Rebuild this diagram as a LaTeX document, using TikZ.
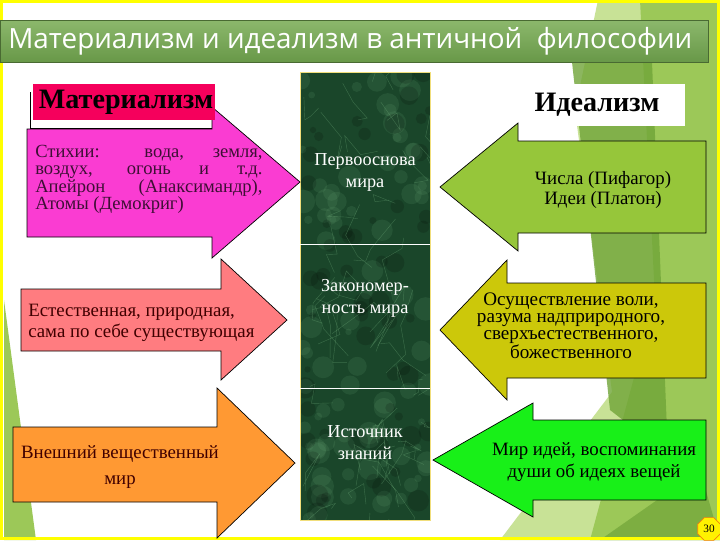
\documentclass[tikz,border=0pt]{standalone}
\usepackage{fontspec}
\setmainfont{Liberation Serif}
\newfontfamily\titlefont{Open Sans}
\usetikzlibrary{shapes.geometric}
\definecolor{ramka}{RGB}{255,255,0}
\definecolor{shapka}{RGB}{104,152,72}
\definecolor{shapkaverh}{RGB}{140,184,108}
\definecolor{mater}{RGB}{245,0,92}
\definecolor{purpur}{RGB}{250,60,210}
\definecolor{rozov}{RGB}{255,124,128}
\definecolor{oranzh}{RGB}{255,153,51}
\definecolor{salat}{RGB}{150,198,58}
\definecolor{oliva}{RGB}{204,200,10}
\definecolor{yarkozel}{RGB}{24,240,24}
\definecolor{mramor}{RGB}{26,70,42}
\definecolor{zhilka}{RGB}{110,170,120}
\definecolor{fon1}{RGB}{200,226,150}
\definecolor{fon2}{RGB}{156,200,88}
\definecolor{fon3}{RGB}{112,164,56}
\tikzstyle{strelka} = [draw=black, line width=0.5pt]
\tikzstyle{tekst} = [inner sep=0pt, font=\fontsize{13.4}{15}\selectfont, align=center]
\tikzstyle{kolonna} = [tekst, text=white, font=\fontsize{13}{15.6}\selectfont]
\tikzstyle{metka} = [inner sep=0pt, font=\bfseries\fontsize{20}{22}\selectfont]

\begin{document}
\begin{tikzpicture}[x=0.025cm, y=-0.025cm]
        \useasboundingbox (0,0) rectangle (720,540);
        \fill[white] (0,0) rectangle (720,540);

        % fon
        \fill[fon1] (598,0) -- (720,0) -- (720,540) -- (500,540) -- (612,392) -- (575,110) -- cycle;
        \fill[fon2] (640,0) -- (720,0) -- (720,540) -- (590,540) -- (655,300) -- cycle;
        \fill[fon3, opacity=0.8] (572,62) -- (652,62) -- (668,455) -- (610,410) -- cycle;
        \fill[fon3, opacity=0.7] (600,540) -- (700,470) -- (720,540) -- cycle;
        \fill[fon2] (4,300) -- (36,540) -- (4,540) -- cycle;
        \draw[ramka, line width=2.4pt] (1.7,1.7) rectangle (718.3,538.3);

        % shapka
        \shade[top color=shapkaverh, bottom color=shapka, draw=shapka!70!black, line width=0.3pt]
            (0,20) rectangle (708,62);
        \node[anchor=west, inner sep=0pt, text=white, font=\titlefont\fontsize{19.8}{22}\selectfont] (title) at (8,41)
            {Материализм и идеализм в античной\ \ философии};

        % kolonna
        \begin{scope}
            \clip (300,72) rectangle (430,520);
            \fill[mramor] (300,72) rectangle (430,520);
            \pgfmathsetseed{17}
            \foreach \i in {1,...,90}
                \fill[zhilka, opacity=0.14] (300+130*rnd, 72+448*rnd) circle (3+9*rnd);
            \foreach \i in {1,...,60}
                \fill[black, opacity=0.15] (300+130*rnd, 72+448*rnd) circle (3+8*rnd);
            \foreach \i in {1,...,55}
                \draw[zhilka, opacity=0.4, line width=0.3pt] (300+130*rnd, 72+448*rnd)
                    -- ++(rand*25, rand*35) -- ++(rand*20, rand*30) -- ++(rand*15, rand*20);
        \end{scope}
        \draw[yellow!60!brown!60!white, line width=0.6pt] (300,72) rectangle (430,520);
        \draw[white, line width=0.6pt] (300,244) -- (430,244);
        \draw[white, line width=0.6pt] (300,388) -- (430,388);

        \node[kolonna] (osnova) at (365,172) {Первооснова\\мира};
        \node[kolonna] (zakon) at (365,298) {Закономер-\\ность мира};
        \node[kolonna] (istochnik) at (365,443) {Источник\\знаний};

        % materializm
        \fill[white] (30,92) rectangle (212,128);
        \draw[black, line width=0.5pt] (30,92) -- (30,128) -- (212,128);
        \draw[strelka, fill=purpur] (27,129) -- (212,129) -- (212,107) -- (300,182)
            -- (212,258) -- (212,237) -- (27,237) -- cycle;
        \fill[mater] (33,84) rectangle (215,120);
        \node[metka] (materializm) at (126,102) {Материализм};

        \draw[strelka, fill=rozov] (21,289) -- (221,289) -- (221,259) -- (287,320)
            -- (221,380) -- (221,351) -- (21,351) -- cycle;
        \draw[strelka, fill=oranzh] (13,427) -- (217,427) -- (217,388) -- (295,463)
            -- (217,538) -- (217,502) -- (13,502) -- cycle;

        \node[tekst, anchor=north west, text width=5.68cm, align=justify, text=purpur!25!black,
            font=\fontsize{13.2}{12.3}\selectfont] (stihii) at (35,145)
            {Стихии: вода, земля,\linebreak воздух, огонь и т.д.\linebreak Апейрон (Анаксимандр),\linebreak Атомы (Демокриг)};
        \node[tekst, anchor=west, align=left, text=red!25!black] (estestv) at (28,323)
            {Естественная, природная,\\сама по себе существующая};
        \node[tekst, text=red!25!black, font=\fontsize{13.4}{18.5}\selectfont] (vneshniy) at (120,467)
            {Внешний вещественный\\мир};

        % idealizm
        \fill[white] (522,84) rectangle (685,126);
        \node[metka] (idealizm) at (597,105) {Идеализм};

        \draw[strelka, fill=salat] (706,141) -- (518,141) -- (518,123) -- (440,187)
            -- (518,251) -- (518,233) -- (706,233) -- cycle;
        \draw[strelka, fill=oliva] (706,283) -- (507,283) -- (507,260) -- (440,330)
            -- (507,400) -- (507,378) -- (706,378) -- cycle;
        \draw[strelka, fill=yarkozel] (706,420) -- (533,420) -- (533,403) -- (433,460)
            -- (533,517) -- (533,500) -- (706,500) -- cycle;

        \node[tekst, font=\fontsize{13.4}{14.2}\selectfont] (chisla) at (603,190) {Числа (Пифагор)\\Идеи (Платон)};
        \node[tekst, font=\fontsize{13.6}{12.2}\selectfont] (volya) at (571,326)
            {Осуществление воли,\\разума надприродного,\\сверхъестественного,\\божественного};
        \node[tekst, font=\fontsize{13.4}{15.6}\selectfont] (mir) at (594,462) {Мир идей, воспоминания\\души об идеях вещей};

        % nomer
        \node[regular polygon, regular polygon sides=8, fill=yellow, draw=orange!80!brown,
            line width=0.5pt, minimum size=17.5pt, inner sep=0pt, font=\fontsize{8}{9}\selectfont]
            (nomer) at (709,529) {30};

\end{tikzpicture}
\end{document}
